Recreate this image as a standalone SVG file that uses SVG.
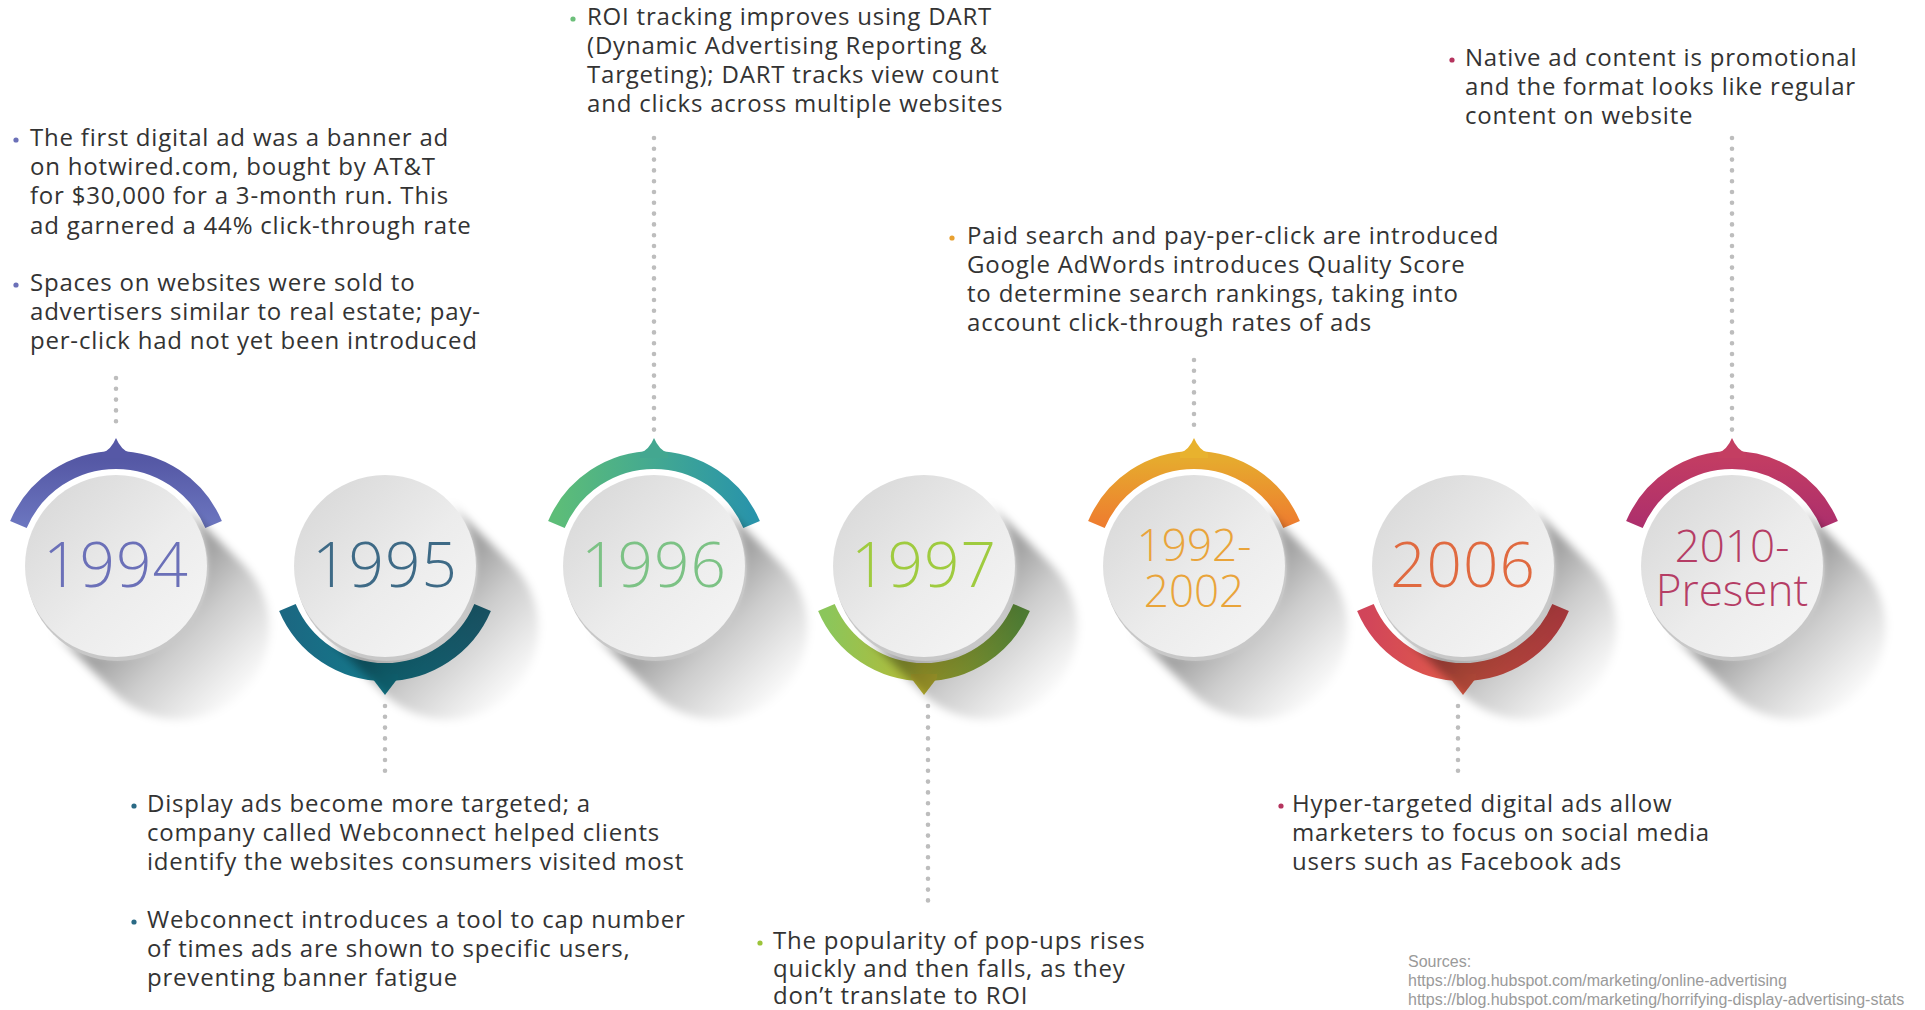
<svg xmlns="http://www.w3.org/2000/svg" xmlns:xlink="http://www.w3.org/1999/xlink" width="1925" height="1010" viewBox="0 0 1925 1010">
  <style>
    .note { font-family: "Open Sans", "Liberation Sans", sans-serif; font-size: 24px; letter-spacing: 0.8px; fill: #333333; }
    .year { font-family: "Open Sans", "Liberation Sans", sans-serif; font-weight: 300; text-anchor: middle; }
    .y1 { font-size: 62px; letter-spacing: 1px; }
    .y2 { font-size: 44px; }
    .arc { fill: none; stroke-width: 18; stroke-linecap: butt; }
    .dots { fill: none; stroke: #bdbdbd; stroke-width: 4.6; stroke-linecap: round; stroke-dasharray: 0 10.8; }
    .src { font-family: "Liberation Sans", Arial, sans-serif; font-size: 16px; fill: #9a9a9a; }
  </style>
  <defs>
    <linearGradient id="faceGrad" x1="0" y1="0" x2="1" y2="1">
      <stop offset="0" stop-color="#d5d5d5"/>
      <stop offset="0.55" stop-color="#ececec"/>
      <stop offset="1" stop-color="#f6f6f6"/>
    </linearGradient>
    <linearGradient id="shadowGrad" x1="0" y1="0" x2="1" y2="1">
      <stop offset="0" stop-color="#000" stop-opacity="0.4"/>
      <stop offset="0.47" stop-color="#000" stop-opacity="0.36"/>
      <stop offset="0.62" stop-color="#000" stop-opacity="0.2"/>
      <stop offset="0.9" stop-color="#000" stop-opacity="0"/>
    </linearGradient>
    <filter id="soft" x="-20%" y="-20%" width="140%" height="140%">
      <feGaussianBlur stdDeviation="4"/>
    </filter>
    <!-- arc gradients -->
    <linearGradient id="g1994" x1="0" y1="0" x2="0" y2="1">
      <stop offset="0" stop-color="#5558a5"/><stop offset="1" stop-color="#6b75bf"/>
    </linearGradient>
    <linearGradient id="g1995" x1="0" y1="0" x2="1" y2="0">
      <stop offset="0" stop-color="#1b6882"/><stop offset="0.5" stop-color="#137a8c"/><stop offset="1" stop-color="#1d6478"/>
    </linearGradient>
    <linearGradient id="g1996" x1="0" y1="0" x2="1" y2="0">
      <stop offset="0" stop-color="#5dbd78"/><stop offset="1" stop-color="#2994aa"/>
    </linearGradient>
    <linearGradient id="g1997" x1="0" y1="0" x2="1" y2="0">
      <stop offset="0" stop-color="#8bc65b"/><stop offset="0.5" stop-color="#b8b933"/><stop offset="1" stop-color="#5f963e"/>
    </linearGradient>
    <linearGradient id="g1992" x1="0" y1="0" x2="0" y2="1">
      <stop offset="0" stop-color="#e6aa2e"/><stop offset="1" stop-color="#ee7d2f"/>
    </linearGradient>
    <linearGradient id="g2006" x1="0" y1="0" x2="1" y2="0">
      <stop offset="0" stop-color="#d1455a"/><stop offset="0.5" stop-color="#e25c48"/><stop offset="1" stop-color="#c94448"/>
    </linearGradient>
    <linearGradient id="g2010" x1="0" y1="0" x2="0" y2="1">
      <stop offset="0" stop-color="#c23c63"/><stop offset="1" stop-color="#ad2f6c"/>
    </linearGradient>
    <!-- disc: long shadow, rim and face, centred at origin -->
    <g id="disc">
      <path d="M64.3,-64.3 L129.3,0.7 A91,91 0 0 1 0.7,129.3 L-64.3,64.3 A91,91 0 0 0 64.3,-64.3 Z" fill="url(#shadowGrad)" filter="url(#soft)"/>
      <circle cx="1.5" cy="4" r="91" fill="#c8c8c8"/>
      <circle r="91" fill="url(#faceGrad)"/>
    </g>
    <path id="arcTop" d="M-97.6,-41.4 A106,106 0 0 1 97.6,-41.4"/>
    <path id="arcBottom" d="M-97.6,41.4 A106,106 0 0 0 97.6,41.4"/>
    <path id="tipTop" d="M-14,-108 L-14,-113 Q-5,-116 0,-128 Q5,-116 14,-113 L14,-108 Z"/>
    <path id="tipBottom" d="M-13,108 L-13,112 L0,129 L13,112 L13,108 Z"/>
  </defs>

  <rect width="1925" height="1010" fill="#ffffff"/>

  <!-- dotted leader lines -->
  <g id="connectors">
    <line class="dots" x1="116" y1="378" x2="116" y2="430"/>
    <line class="dots" x1="385" y1="706" x2="385" y2="776"/>
    <line class="dots" x1="654" y1="138" x2="654" y2="430"/>
    <line class="dots" x1="928" y1="706" x2="928" y2="903"/>
    <line class="dots" x1="1194" y1="360" x2="1194" y2="432"/>
    <line class="dots" x1="1458" y1="706" x2="1458" y2="776"/>
    <line class="dots" x1="1732" y1="138" x2="1732" y2="432"/>
  </g>

  <!-- 1994 -->
  <g id="node-1994">
    <g transform="translate(116,566)">
      <use href="#arcTop" class="arc" stroke="url(#g1994)"/>
      <use href="#tipTop" fill="#5658a6"/>
      <use href="#disc"/>
      <text class="year y1" y="21" fill="#6b70b8">1994</text>
    </g>
    <circle cx="16" cy="140" r="2.6" fill="#6b70b8"/>
    <circle cx="16" cy="285" r="2.6" fill="#6b70b8"/>
    <text class="note">
      <tspan x="30" y="146">The first digital ad was a banner ad</tspan>
      <tspan x="30" y="175">on hotwired.com, bought by AT&amp;T</tspan>
      <tspan x="30" y="204">for $30,000 for a 3-month run. This</tspan>
      <tspan x="30" y="234">ad garnered a 44% click-through rate</tspan>
      <tspan x="30" y="291">Spaces on websites were sold to</tspan>
      <tspan x="30" y="320">advertisers similar to real estate; pay-</tspan>
      <tspan x="30" y="349">per-click had not yet been introduced</tspan>
    </text>
  </g>

  <!-- 1995 -->
  <g id="node-1995">
    <g transform="translate(385,566)">
      <use href="#arcBottom" class="arc" stroke="url(#g1995)"/>
      <use href="#tipBottom" fill="#137a8c"/>
      <use href="#disc"/>
      <text class="year y1" y="21" fill="#3e6a86">1995</text>
    </g>
    <circle cx="134" cy="806" r="2.6" fill="#2a6a85"/>
    <circle cx="134" cy="922" r="2.6" fill="#2a6a85"/>
    <text class="note">
      <tspan x="147" y="812">Display ads become more targeted; a</tspan>
      <tspan x="147" y="841">company called Webconnect helped clients</tspan>
      <tspan x="147" y="870">identify the websites consumers visited most</tspan>
      <tspan x="147" y="928">Webconnect introduces a tool to cap number</tspan>
      <tspan x="147" y="957">of times ads are shown to specific users,</tspan>
      <tspan x="147" y="986">preventing banner fatigue</tspan>
    </text>
  </g>

  <!-- 1996 -->
  <g id="node-1996">
    <g transform="translate(654,566)">
      <use href="#arcTop" class="arc" stroke="url(#g1996)"/>
      <use href="#tipTop" fill="#43a790"/>
      <use href="#disc"/>
      <text class="year y1" y="21" fill="#7cc285">1996</text>
    </g>
    <circle cx="573" cy="19" r="2.6" fill="#6cbf7a"/>
    <text class="note">
      <tspan x="587" y="25">ROI tracking improves using DART</tspan>
      <tspan x="587" y="54">(Dynamic Advertising Reporting &amp;</tspan>
      <tspan x="587" y="83">Targeting); DART tracks view count</tspan>
      <tspan x="587" y="112">and clicks across multiple websites</tspan>
    </text>
  </g>

  <!-- 1997 -->
  <g id="node-1997">
    <g transform="translate(924,566)">
      <use href="#arcBottom" class="arc" stroke="url(#g1997)"/>
      <use href="#tipBottom" fill="#bdb632"/>
      <use href="#disc"/>
      <text class="year y1" y="21" fill="#9fcb3f">1997</text>
    </g>
    <circle cx="760" cy="943" r="2.6" fill="#9cc43a"/>
    <text class="note">
      <tspan x="773" y="949">The popularity of pop-ups rises</tspan>
      <tspan x="773" y="977">quickly and then falls, as they</tspan>
      <tspan x="773" y="1004">don’t translate to ROI</tspan>
    </text>
  </g>

  <!-- 1992-2002 -->
  <g id="node-1992-2002">
    <g transform="translate(1194,566)">
      <use href="#arcTop" class="arc" stroke="url(#g1992)"/>
      <use href="#tipTop" fill="#e8b22e"/>
      <use href="#disc"/>
      <text class="year y2" fill="#e9a43a"><tspan x="0" y="-5">1992-</tspan><tspan x="0" y="41">2002</tspan></text>
    </g>
    <circle cx="952" cy="238" r="2.6" fill="#e8a030"/>
    <text class="note">
      <tspan x="967" y="244">Paid search and pay-per-click are introduced</tspan>
      <tspan x="967" y="273">Google AdWords introduces Quality Score</tspan>
      <tspan x="967" y="302">to determine search rankings, taking into</tspan>
      <tspan x="967" y="331">account click-through rates of ads</tspan>
    </text>
  </g>

  <!-- 2006 -->
  <g id="node-2006">
    <g transform="translate(1463,566)">
      <use href="#arcBottom" class="arc" stroke="url(#g2006)"/>
      <use href="#tipBottom" fill="#e25c48"/>
      <use href="#disc"/>
      <text class="year y1" y="21" fill="#e06a40" letter-spacing="2">2006</text>
    </g>
    <circle cx="1281" cy="806" r="2.6" fill="#b5345e"/>
    <text class="note">
      <tspan x="1292" y="812">Hyper-targeted digital ads allow</tspan>
      <tspan x="1292" y="841">marketers to focus on social media</tspan>
      <tspan x="1292" y="870">users such as Facebook ads</tspan>
    </text>
  </g>

  <!-- 2010-Present -->
  <g id="node-2010">
    <g transform="translate(1732,566)">
      <use href="#arcTop" class="arc" stroke="url(#g2010)"/>
      <use href="#tipTop" fill="#c43e62"/>
      <use href="#disc"/>
      <text class="year y2" fill="#b53d65"><tspan x="0" y="-4">2010-</tspan><tspan x="0" y="40">Present</tspan></text>
    </g>
    <circle cx="1452" cy="60" r="2.6" fill="#b5345e"/>
    <text class="note">
      <tspan x="1465" y="66">Native ad content is promotional</tspan>
      <tspan x="1465" y="95">and the format looks like regular</tspan>
      <tspan x="1465" y="124">content on website</tspan>
    </text>
  </g>

  <!-- sources -->
  <g id="sources">
    <text class="src">
      <tspan x="1408" y="967">Sources:</tspan>
      <tspan x="1408" y="986">https://blog.hubspot.com/marketing/online-advertising</tspan>
      <tspan x="1408" y="1005">https://blog.hubspot.com/marketing/horrifying-display-advertising-stats</tspan>
    </text>
  </g>
</svg>
